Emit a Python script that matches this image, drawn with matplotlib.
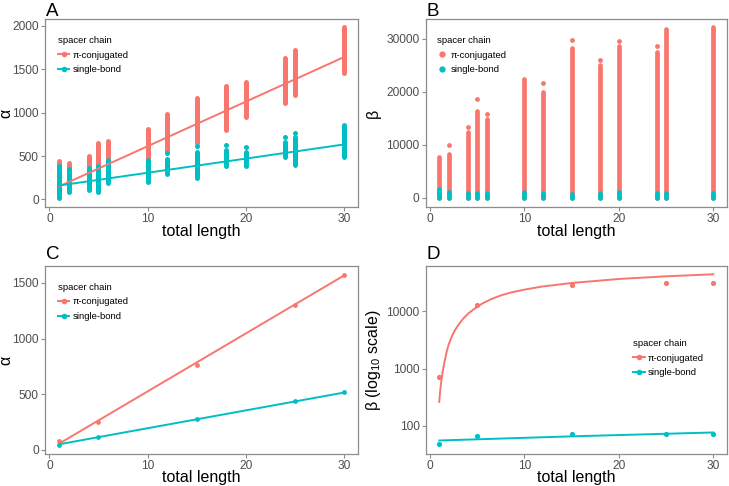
import matplotlib
matplotlib.use("Agg")
import matplotlib.pyplot as plt
from matplotlib.lines import Line2D

plt.rcParams['font.family'] = ['Liberation Sans', 'DejaVu Sans']
plt.rcParams['mathtext.fontset'] = 'custom'
plt.rcParams['mathtext.rm'] = 'Liberation Sans'

RED = '#F8766D'
TEAL = '#00BFC4'
FRAME = '#8c8c8c'

# ---- panel A: alpha spread per total length
lengths_a = [1, 2, 4, 5, 6, 10, 12, 15, 18, 20, 24, 25, 30]
alpha_pi_low = [100, 150, 250, 100, 430, 440, 550, 650, 800, 950, 1110, 1205, 1454]
alpha_pi_high = [442, 423, 495, 646, 677, 815, 984, 1170, 1310, 1357, 1627, 1723, 1991]
alpha_sb_low = [15, 90, 110, 80, 190, 205, 290, 245, 390, 380, 492, 396, 492]
alpha_sb_high = [380, 346, 358, 390, 454, 453, 470, 550, 570, 550, 665, 722, 857]
alpha_sb_dot_x = [12, 15, 18, 20, 24, 25]
alpha_sb_dot_y = [530, 619, 627, 607, 722, 761]
fit_x = [1, 30]
alpha_pi_fit_a = [150, 1640]
alpha_sb_fit_a = [160, 633]

# ---- panel B: beta spread per total length
beta_pi_low = [0, 0, 0, 0, 0, 0, 0, 0, 0, 0, 0, 0, 0]
beta_pi_high = [7700, 8200, 12400, 16400, 14800, 22400, 20000, 28300, 25000, 28600, 27500, 31800, 32200]
beta_pi_dot_x = [2, 4, 5, 6, 12, 15, 18, 20, 24]
beta_pi_dot_y = [10000, 13300, 18550, 15720, 21650, 29680, 26040, 29550, 28610]
beta_sb_high = [1700, 1100, 1000, 900, 1000, 1150, 1000, 800, 1000, 1100, 1000, 900, 1000]

# ---- panel C: alpha summary
lengths_c = [1, 5, 15, 25, 30]
alpha_pi_c = [75, 249, 762, 1302, 1572]
alpha_sb_c = [39, 111, 273, 435, 516]
alpha_pi_fit_c = [54, 1566]
alpha_sb_fit_c = [48, 513]

# ---- panel D: beta summary (log scale)
beta_pi_d = [714, 12900, 28970, 31000, 31400]
beta_sb_d = [47, 67, 70.5, 72.4, 71.4]
curve_x_d = [0.98, 1.08, 1.19, 1.35, 1.54, 1.75, 1.96, 2.3, 2.66, 3.1, 3.54, 4.1, 4.77, 5.6, 6.53, 7.5, 8.63, 10, 11.8, 15, 20, 25, 30]
curve_pi_d = [261, 400, 584, 880, 1312, 1900, 2570, 3600, 4720, 6100, 7530, 9300, 11300, 13900, 16500, 19000, 21500, 24000, 27100, 31400, 36900, 41100, 44600]
curve_sb_x = [1, 15, 30]
curve_sb_d = [55, 65, 76]

legend_labels = ['π-conjugated', 'single-bond']


def style_axes(ax, ylab, lab_x):
    for s in ax.spines.values():
        s.set_color(FRAME)
        s.set_linewidth(0.9)
    ax.tick_params(colors=FRAME, labelcolor='#4d4d4d', labelsize=8.6, length=3, width=0.8, pad=1.5)
    ax.tick_params(which='minor', length=0)
    ax.set_xlim(-0.45, 31.45)
    ax.set_xticks([0, 10, 20, 30])
    ax.set_xlabel('total length', fontsize=11.5)
    ax.set_ylabel(ylab, fontsize=11.5)
    ax.xaxis.set_label_coords(0.5, -0.088)
    ax.yaxis.set_label_coords(lab_x, 0.5)


def add_legend(ax, x, y, lines=True):
    if lines:
        handles = [Line2D([], [], color=c, lw=1.4, marker='o', ms=3) for c in (RED, TEAL)]
    else:
        handles = [Line2D([], [], color=c, lw=0, marker='o', ms=3.5) for c in (RED, TEAL)]
    ax.legend(handles, legend_labels, title='spacer chain', loc='upper left',
              bbox_to_anchor=(x, y), frameon=False, fontsize=6.8, title_fontsize=6.8,
              borderaxespad=0, borderpad=0, handlelength=1.2, handletextpad=0.3,
              labelspacing=0.6, alignment='left')


fig = plt.figure(figsize=(7.29, 4.86), dpi=100)
W, H = 729, 486


def add_ax(l, t, r, b):
    return fig.add_axes([l / W, 1 - b / H, (r - l) / W, (b - t) / H])


axA = add_ax(45, 19, 358, 207)
axB = add_ax(425.7, 19, 727, 207)
axC = add_ax(45, 266.3, 358, 453.7)
axD = add_ax(425.7, 266.3, 727, 453.7)

# A
lc = axA.vlines(lengths_a, alpha_pi_low, alpha_pi_high, colors=RED, linewidth=3.6, zorder=2)
lc.set_capstyle('round')
lc = axA.vlines(lengths_a, alpha_sb_low, alpha_sb_high, colors=TEAL, linewidth=3.6, zorder=3)
lc.set_capstyle('round')
axA.scatter(alpha_sb_dot_x, alpha_sb_dot_y, s=13, color=TEAL, lw=0, zorder=3)
axA.plot(fit_x, alpha_pi_fit_a, color=RED, lw=1.4, zorder=4)
axA.plot(fit_x, alpha_sb_fit_a, color=TEAL, lw=1.4, zorder=4)
axA.set_ylim(-88, 2080)
axA.set_yticks([0, 500, 1000, 1500, 2000])
style_axes(axA, 'α', -0.102)
add_legend(axA, 0.042, 0.91)

# B
lc = axB.vlines(lengths_a, beta_pi_low, beta_pi_high, colors=RED, linewidth=3.4, zorder=2)
lc.set_capstyle('round')
axB.scatter(beta_pi_dot_x, beta_pi_dot_y, s=12, color=RED, lw=0, zorder=2)
lc = axB.vlines(lengths_a, [0] * len(lengths_a), beta_sb_high, colors=TEAL, linewidth=3.4, zorder=3)
lc.set_capstyle('round')
axB.set_ylim(-1700, 33700)
axB.set_yticks([0, 10000, 20000, 30000])
style_axes(axB, 'β', -0.15)
add_legend(axB, 0.036, 0.91, lines=False)

# C
axC.plot(fit_x, alpha_pi_fit_c, color=RED, lw=1.4, zorder=3)
axC.plot(fit_x, alpha_sb_fit_c, color=TEAL, lw=1.4, zorder=3)
axC.scatter(lengths_c, alpha_pi_c, s=12, color=RED, lw=0, zorder=4)
axC.scatter(lengths_c, alpha_sb_c, s=12, color=TEAL, lw=0, zorder=4)
axC.set_ylim(-37, 1650)
axC.set_yticks([0, 500, 1000, 1500])
style_axes(axC, 'α', -0.102)
add_legend(axC, 0.042, 0.912)

# D
axD.set_yscale('log')
axD.plot(curve_x_d, curve_pi_d, color=RED, lw=1.4, zorder=3)
axD.plot(curve_sb_x, curve_sb_d, color=TEAL, lw=1.4, zorder=3)
axD.scatter(lengths_c, beta_pi_d, s=14, color=RED, lw=0, zorder=4)
axD.scatter(lengths_c, beta_sb_d, s=14, color=TEAL, lw=0, zorder=4)
axD.set_ylim(32.3, 61500)
axD.set_yticks([100, 1000, 10000])
axD.set_yticklabels(['100', '1000', '10000'])
axD.yaxis.set_minor_locator(matplotlib.ticker.NullLocator())
style_axes(axD, r'β (log$_{10}$ scale)', -0.142)
add_legend(axD, 0.689, 0.612)

for ax, lab, x in ((axA, 'A', 46), (axB, 'B', 427), (axC, 'C', 46), (axD, 'D', 427)):
    y = 3 if lab in 'AB' else 246
    fig.text(x / W, 1 - y / H, lab, fontsize=13.5, ha='left', va='top')

fig.savefig('out.png', dpi=100)
